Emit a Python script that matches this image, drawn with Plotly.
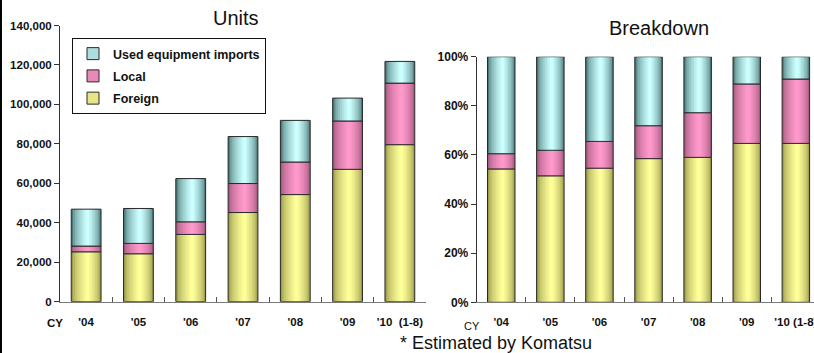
import plotly.graph_objects as go

# ---- data -------------------------------------------------------------
years = ["'04", "'05", "'06", "'07", "'08", "'09", "'10"]
units_ticktext = ["'04", "'05", "'06", "'07", "'08", "'09", "'10  (1-8)"]
share_ticktext = ["'04", "'05", "'06", "'07", "'08", "'09", "'10 (1-8)"]

# demand in units, stacked bottom to top
foreign_units = [25300, 24300, 34100, 45200, 54300, 67100, 79600]
local_units = [2900, 5250, 6400, 14700, 16500, 24500, 31200]
used_units = [18700, 17700, 21900, 23800, 21100, 11600, 11000]

# composition in percent
foreign_share = [54.3, 51.5, 54.6, 58.5, 59.0, 64.7, 64.7]
local_share = [6.2, 10.4, 10.9, 13.4, 18.2, 24.2, 26.2]
used_share = [39.5, 38.1, 34.5, 28.1, 22.8, 11.1, 9.1]

series_names = ["Foreign", "Local", "Used equipment imports"]
units_series = [foreign_units, local_units, used_units]
share_series = [[v / 100 for v in s] for s in (foreign_share, local_share, used_share)]

# ---- styling ----------------------------------------------------------
W, H = 814, 353
FONT = "Liberation Sans, Arial, sans-serif"
# (edge colour, highlight colour) for the cylinder-like shading
SHADES = {
    "Foreign": ("#9c9c4c", "#ffff99"),
    "Local": ("#a45a7e", "#ff99cc"),
    "Used equipment imports": ("#4c7a7a", "#ccffff"),
}
OUTLINE = "#2a2a2a"
LEVELS = 9
PEAK = 0.55


def mix(c1, c2, t):
    a = [int(c1[i:i + 2], 16) for i in (1, 3, 5)]
    b = [int(c2[i:i + 2], 16) for i in (1, 3, 5)]
    return "rgb({},{},{})".format(*[round(x + (y - x) * t) for x, y in zip(a, b)])


def px_x(v):
    return v / W


def px_y(v):
    return 1 - v / H


fig = go.Figure()


def add_stack(series, xref, yref, width):
    bases = [0.0] * len(years)
    for name, vals in zip(series_names, series):
        edge, light = SHADES[name]
        # shaded strips, narrowing towards the highlight
        for k in range(LEVELS):
            s = 1 - k / LEVELS
            a = PEAK - PEAK * s
            b = PEAK + (1 - PEAK) * s
            fig.add_trace(go.Bar(
                x=years, y=vals, base=bases, xaxis=xref, yaxis=yref,
                width=width * (b - a), offset=-width / 2 + width * a,
                marker=dict(color=mix(edge, light, (k / (LEVELS - 1)) ** 0.6),
                            line=dict(width=0)),
                showlegend=False, hoverinfo="skip"))
        # segment outline on top
        fig.add_trace(go.Bar(
            x=years, y=vals, base=bases, xaxis=xref, yaxis=yref,
            width=width, offset=-width / 2,
            marker=dict(color="rgba(0,0,0,0)", line=dict(color=OUTLINE, width=1)),
            showlegend=False, name=name))
        bases = [b_ + v for b_, v in zip(bases, vals)]


add_stack(units_series, "x", "y", 0.57)
add_stack(share_series, "x2", "y2", 0.56)

# legend entries (top to bottom: Used, Local, Foreign)
for name in reversed(series_names):
    edge, light = SHADES[name]
    fig.add_trace(go.Bar(
        x=[None], y=[None], name=name, legendgroup=name,
        marker=dict(color=mix(edge, light, 0.75), line=dict(color=OUTLINE, width=1))))

axis_common = dict(showgrid=False, zeroline=False, fixedrange=True, automargin=False)
x_common = dict(
    type="category", categoryorder="array", categoryarray=years,
    tickvals=years, showline=True, linecolor="#7a7a7a", linewidth=1,
    ticks="inside", ticklen=5, tickcolor="#555", tickson="boundaries",
    tickangle=0,
    tickfont=dict(family=FONT, size=11.5, color="#111", weight="bold"),
    ticklabelstandoff=9, **axis_common)


def note(text, x, y, size, bold=False):
    return dict(text=text, x=px_x(x), y=px_y(y), xref="paper", yref="paper",
                xanchor="center", yanchor="middle", showarrow=False,
                font=dict(family=FONT, size=size, color="#111",
                          weight="bold" if bold else "normal"))


fig.update_layout(
    width=W, height=H, margin=dict(l=0, r=0, t=0, b=0, autoexpand=False),
    paper_bgcolor="white", plot_bgcolor="white",
    barmode="overlay", showlegend=True,
    xaxis=dict(domain=[px_x(60), px_x(426)], range=[-0.5, 6.5],
               ticktext=units_ticktext, anchor="y", **x_common),
    yaxis=dict(domain=[px_y(301.7), px_y(25.5)], range=[0, 140000],
               tickvals=[0, 20000, 40000, 60000, 80000, 100000, 120000, 140000],
               tickformat=",", showline=True, linecolor="#333", linewidth=1,
               ticks="outside", ticklen=5, tickcolor="#333",
               tickfont=dict(family=FONT, size=11.5, color="#111", weight="bold"),
               anchor="x", **axis_common),
    xaxis2=dict(domain=[px_x(476.7), 1.0], range=[-0.5, -0.5 + (814 - 476.7) / 49.1],
                ticktext=share_ticktext, anchor="y2", **x_common),
    yaxis2=dict(domain=[px_y(302.3), px_y(56.7)], range=[0, 1],
                tickvals=[0, 0.2, 0.4, 0.6, 0.8, 1.0], tickformat=".0%",
                showline=True, linecolor="#333", linewidth=1,
                ticks="outside", ticklen=5, tickcolor="#333",
                tickfont=dict(family=FONT, size=12, color="#111", weight="bold"),
                anchor="x2", **axis_common),
    legend=dict(x=px_x(72), y=px_y(38), xanchor="left", yanchor="top",
                bgcolor="white", bordercolor="#111", borderwidth=1,
                font=dict(family=FONT, size=12.5, color="#111", weight="bold"),
                traceorder="grouped", tracegroupgap=3, itemwidth=30),
    annotations=[
        note("Units", 236, 18, 20),
        note("Breakdown", 658.5, 28, 20),
        note("CY", 55, 323, 11.5, bold=True),
        note("CY", 472, 325.5, 11),
        note("* Estimated by Komatsu", 496, 343, 18),
    ],
    shapes=[dict(type="line", xref="paper", yref="paper", x0=0.0012, x1=0.0012,
                 y0=0, y1=1, line=dict(color="#000", width=2))],
)

fig.write_html("out.html")
